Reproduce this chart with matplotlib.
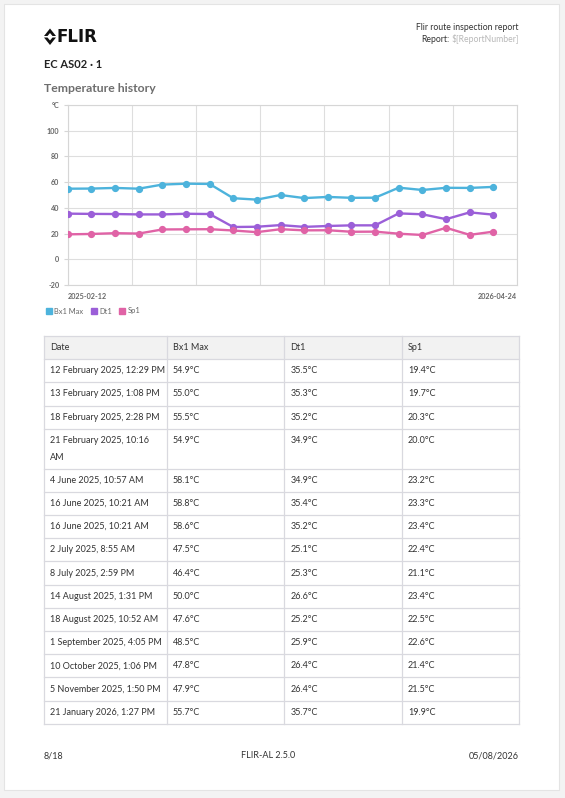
import matplotlib
matplotlib.use("Agg")
import matplotlib.pyplot as plt
from matplotlib.patches import Rectangle, Polygon
from matplotlib.lines import Line2D
import numpy as np

plt.rcParams['font.family'] = ['Lato', 'DejaVu Sans']

# Datos del historial de temperatura (19 mediciones en el gráfico)
bx1_max = [54.9, 55.0, 55.5, 54.9, 58.1, 58.8, 58.6, 47.5, 46.4, 50.0,
           47.6, 48.5, 47.8, 47.9, 55.7, 53.9, 55.6, 55.5, 56.3]
dt1 = [35.5, 35.3, 35.2, 34.9, 34.9, 35.4, 35.2, 25.1, 25.3, 26.6,
       25.2, 25.9, 26.4, 26.4, 35.7, 35.0, 31.2, 36.5, 34.7]
sp1 = [19.4, 19.7, 20.3, 20.0, 23.2, 23.3, 23.4, 22.4, 21.1, 23.4,
       22.5, 22.6, 21.4, 21.5, 19.9, 18.9, 24.5, 19.0, 21.5]
series_names = ['Bx1 Max', 'Dt1', 'Sp1']
series_colors = ['#4db3dc', '#9b5fd8', '#e063a6']
y_ticks = [-20, 0, 20, 40, 60, 80, 100, 120]
y_labels = ['-20', '0', '20', '40', '60', '80', '100', '°C']
date_first = '2025-02-12'
date_last = '2026-04-24'

# Filas de la tabla (página 8 de 18)
table_dates = ['12 February 2025, 12:29 PM', '13 February 2025, 1:08 PM',
               '18 February 2025, 2:28 PM', '21 February 2025, 10:16\nAM',
               '4 June 2025, 10:57 AM', '16 June 2025, 10:21 AM',
               '16 June 2025, 10:21 AM', '2 July 2025, 8:55 AM',
               '8 July 2025, 2:59 PM', '14 August 2025, 1:31 PM',
               '18 August 2025, 10:52 AM', '1 September 2025, 4:05 PM',
               '10 October 2025, 1:06 PM', '5 November 2025, 1:50 PM',
               '21 January 2026, 1:27 PM']
table_header = ['Date', 'Bx1 Max', 'Dt1', 'Sp1']

W, H = 565, 798
fig = plt.figure(figsize=(W / 100, H / 100), dpi=100)
fig.patch.set_facecolor('#f3f3f3')

# Fondo de página en coordenadas de píxel
pg = fig.add_axes([0, 0, 1, 1])
pg.set_xlim(0, W)
pg.set_ylim(H, 0)
pg.axis('off')
pg.add_patch(Rectangle((4, 4), 555, 786, facecolor='white', edgecolor='#e4e4e4', lw=0.8))

# Logo FLIR
pg.add_patch(Polygon([(44, 36), (50, 28.5), (56, 36), (52.5, 36), (50, 33), (47.5, 36)],
                     closed=True, facecolor='#111111', edgecolor='none'))
pg.add_patch(Polygon([(44, 37.5), (50, 45), (56, 37.5), (52.5, 37.5), (50, 40.5), (47.5, 37.5)],
                     closed=True, facecolor='#111111', edgecolor='none'))
pg.text(57, 37, 'FLIR', fontsize=12, fontweight='bold', family='DejaVu Sans',
        color='#111111', va='center', ha='left')

pg.text(44, 64, 'EC AS02 · 1', fontsize=8, fontweight='bold', color='#222222', va='center')
pg.text(44, 89, 'Temperature history', fontsize=8.8, fontweight='bold', color='#6e6e6e', va='center')

pg.text(519, 28, 'Flir route inspection report', fontsize=6.2, color='#333333', ha='right', va='center')
rn = pg.text(519, 39.5, r'\$[ReportNumber]', fontsize=6.2, color='#b8b8b8', ha='right', va='center')
fig.canvas.draw()
bb = rn.get_window_extent(fig.canvas.get_renderer())
pg.text(bb.x0 - 2, 39.5, 'Report:', fontsize=6.2, color='#333333', ha='right', va='center')

# Pie de página
pg.text(44, 756, '8/18', fontsize=6.5, color='#333333', va='center')
pg.text(268, 756, 'FLIR-AL 2.5.0', fontsize=6.5, color='#333333', va='center', ha='center')
pg.text(519, 756, '05/08/2026', fontsize=6.5, color='#333333', va='center', ha='right')

# Tabla
col_x = [44, 166.7, 284, 401.7, 519]
line_h = 16.6
row_h = 23.2
border = '#d9d9df'
fs = 6.5
top = 336
pg.add_patch(Rectangle((col_x[0], top), col_x[-1] - col_x[0], row_h,
                       facecolor='#f2f2f2', edgecolor='none'))
for c, name in enumerate(table_header):
    pg.text(col_x[c] + 6.3, top + row_h / 2, name, fontsize=fs, color='#333333', va='center')
y = top + row_h
row_lines = [y]
for i, d in enumerate(table_dates):
    n = d.count('\n') + 1
    h = row_h + (n - 1) * line_h
    cells = [d, f'{bx1_max[i]:.1f}°C', f'{dt1[i]:.1f}°C', f'{sp1[i]:.1f}°C']
    for c, txt in enumerate(cells):
        for k, part in enumerate(txt.split('\n')):
            pg.text(col_x[c] + 6.3, y + 11.6 + k * line_h, part, fontsize=fs,
                    color='#333333', va='center')
    y += h
    row_lines.append(y)
bottom = y
for yy in [top] + row_lines:
    pg.plot([col_x[0], col_x[-1]], [yy, yy], color=border, lw=0.9)
for xx in col_x:
    pg.plot([xx, xx], [top, bottom], color=border, lw=0.9)

# Gráfico
ax = fig.add_axes([67.7 / W, 1 - 285 / H, (517 - 67.7) / W, 180 / H])
ax.set_facecolor('none')
x = np.arange(len(bx1_max))
for vals, name, col in zip([bx1_max, dt1, sp1], series_names, series_colors):
    ax.plot(x, vals, color=col, lw=1.7, marker='o', markersize=4.2, label=name, zorder=3)
ax.set_xlim(0, len(bx1_max))
ax.set_ylim(-20, 120)
ax.set_yticks(y_ticks)
ax.set_yticklabels(y_labels)
ax.set_xticks(np.linspace(0, len(bx1_max), 8))
ax.tick_params(axis='x', length=0, labelbottom=False)
ax.tick_params(axis='y', length=3, color='#d6d6d6', labelsize=5.2, labelcolor='#666666', pad=3)
for lab in ax.get_yticklabels():
    lab.set_fontweight('bold')
ax.grid(True, color='#dedede', lw=0.8)
for s in ax.spines.values():
    s.set_color('#d6d6d6')
    s.set_linewidth(0.8)
ax.text(0, -0.062, date_first, transform=ax.transAxes, fontsize=5.2, fontweight='bold',
        color='#666666', ha='left', va='center')
ax.text(1, -0.062, date_last, transform=ax.transAxes, fontsize=5.2, fontweight='bold',
        color='#666666', ha='right', va='center')

handles = [Line2D([], [], marker='s', ls='none', color=c, markersize=4.5) for c in series_colors]
fig.legend(handles, series_names, loc='center left', bbox_to_anchor=(46 / W, 1 - 311 / H),
           ncol=3, frameon=False, fontsize=5.4, handlelength=0.8, handletextpad=0.3,
           columnspacing=1.0, borderaxespad=0, borderpad=0, labelcolor='#666666')

fig.savefig('out.png', dpi=100)
